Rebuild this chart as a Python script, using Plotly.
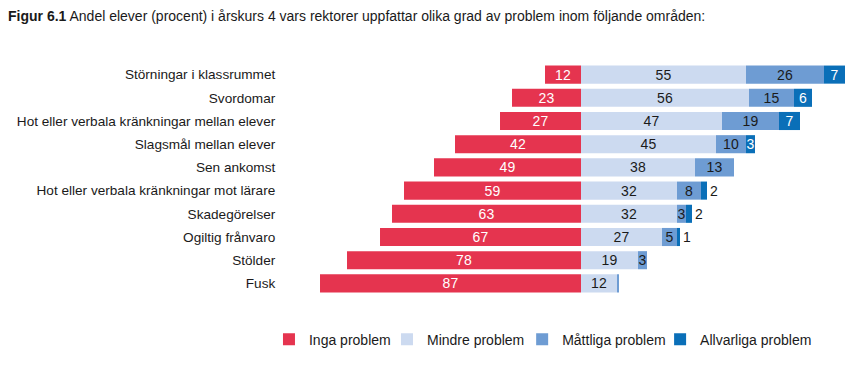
import plotly.graph_objects as go

categories = [
    "Störningar i klassrummet",
    "Svordomar",
    "Hot eller verbala kränkningar mellan elever",
    "Slagsmål mellan elever",
    "Sen ankomst",
    "Hot eller verbala kränkningar mot lärare",
    "Skadegörelser",
    "Ogiltig frånvaro",
    "Stölder",
    "Fusk",
]
inga = [12, 23, 27, 42, 49, 59, 63, 67, 78, 87]
mindre = [55, 56, 47, 45, 38, 32, 32, 27, 19, 12]
mattliga = [26, 15, 19, 10, 13, 8, 3, 5, 3, 0.5]
allvarliga = [7, 6, 7, 3, 0, 2, 2, 1, 0, 0]

mattliga_labels = ["26", "15", "19", "10", "13", "8", "3", "5", "3", ""]
allv_labels = ["7", "6", "7", "3", "", "2", "2", "1", "", ""]
allv_pos = ["inside", "inside", "inside", "inside", "none", "outside", "outside", "outside", "none", "none"]

series_names = ["Inga problem", "Mindre problem", "Måttliga problem", "Allvarliga problem"]
colors = ["#E5344F", "#CCDAF0", "#6E9CD3", "#0A6FB8"]

FONT = "Liberation Sans, Arial, sans-serif"
FS = 14

fig = go.Figure()
fig.add_trace(go.Bar(
    y=categories, x=[-v for v in inga], orientation="h", name=series_names[0],
    marker=dict(color=colors[0], line=dict(width=0)), legend="legend",
    text=[str(v) for v in inga], textposition="inside", insidetextanchor="middle",
    insidetextfont=dict(color="white", size=FS, family=FONT),
))
fig.add_trace(go.Bar(
    y=categories, x=mindre, orientation="h", name=series_names[1],
    marker=dict(color=colors[1], line=dict(width=0)), legend="legend2",
    text=[str(v) for v in mindre], textposition="inside", insidetextanchor="middle",
    insidetextfont=dict(color="#1a1a1a", size=FS, family=FONT),
))
fig.add_trace(go.Bar(
    y=categories, x=mattliga, orientation="h", name=series_names[2],
    marker=dict(color=colors[2], line=dict(width=0)), legend="legend3",
    text=mattliga_labels, textposition="inside", insidetextanchor="middle",
    insidetextfont=dict(color="#1a1a1a", size=FS, family=FONT),
))
fig.add_trace(go.Bar(
    y=categories, x=allvarliga, orientation="h", name=series_names[3],
    marker=dict(color=colors[3], line=dict(width=0)), legend="legend4",
    text=allv_labels, textposition=allv_pos, insidetextanchor="middle",
    insidetextfont=dict(color="white", size=FS, family=FONT),
    outsidetextfont=dict(color="#1a1a1a", size=FS, family=FONT),
))

fig.update_traces(constraintext="none", cliponaxis=False, textangle=0)

def leg(xpos):
    return dict(
        orientation="h", x=xpos, xanchor="left", y=-0.192, yanchor="middle",
        font=dict(size=FS, family=FONT, color="#1a1a1a"),
        itemclick=False, bgcolor="rgba(0,0,0,0)",
    )

fig.update_layout(
    width=846, height=359,
    margin=dict(l=292, r=0, t=55, b=72, autoexpand=False),
    barmode="relative",
    bargap=0.22,
    plot_bgcolor="white", paper_bgcolor="white",
    font=dict(family=FONT, size=FS, color="#1a1a1a"),
    uniformtext=dict(minsize=FS, mode="show"),
    title=dict(
        text="<b>Figur 6.1</b> Andel elever (procent) i årskurs 4 vars rektorer uppfattar olika grad av problem inom följande områden:",
        x=0.0, xref="container", xanchor="left",
        y=0.978, yref="container", yanchor="middle",
        font=dict(size=FS, family=FONT, color="#1a1a1a"),
    ),
    xaxis=dict(range=[-93.67, 91.0], visible=False, fixedrange=True),
    yaxis=dict(
        categoryorder="array", categoryarray=categories, autorange="reversed",
        showgrid=False, zeroline=False, showline=False,
        ticks="outside", ticklen=21, tickcolor="rgba(0,0,0,0)",
        tickfont=dict(size=13.6, family=FONT, color="#1a1a1a"),
        automargin=False,
    ),
    legend=leg(-0.056),
    legend2=leg(0.157),
    legend3=leg(0.401),
    legend4=leg(0.650),
    showlegend=True,
)

fig.write_html("out.html")
